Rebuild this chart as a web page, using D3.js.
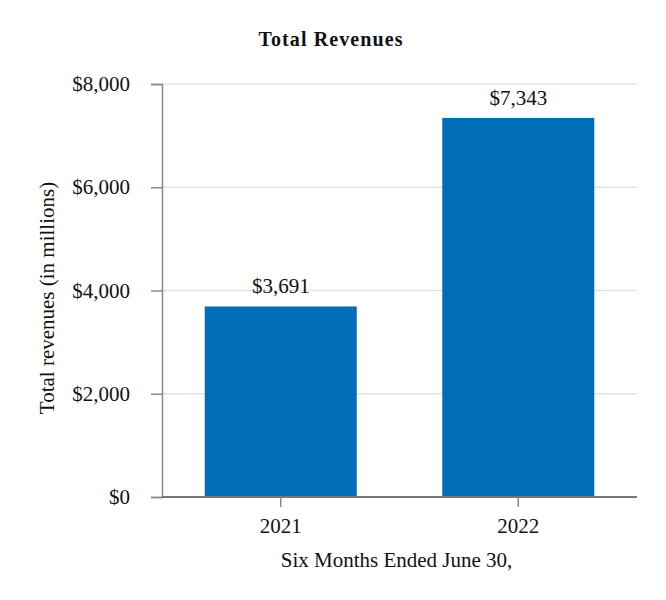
<!DOCTYPE html>
<html>
<head>
<meta charset="utf-8">
<script src="https://cdn.jsdelivr.net/npm/d3@7"></script>
<style>
  html, body { margin: 0; padding: 0; background: #ffffff; }
  svg { display: block; }
  text { font-family: "Liberation Serif", "Times New Roman", serif; fill: #111; }
</style>
</head>
<body>
<svg id="chart" width="666" height="600"></svg>
<script>
const categories = ["2021", "2022"];
const values = [3691, 7343];
const valueLabels = ["$3,691", "$7,343"];
const yTicks = [0, 2000, 4000, 6000, 8000];
const yTickLabels = ["$0", "$2,000", "$4,000", "$6,000", "$8,000"];
const title = "Total Revenues";
const xTitle = "Six Months Ended June 30,";
const yTitle = "Total revenues (in millions)";

const svg = d3.select("#chart");
const m = { left: 162, right: 637, top: 84, bottom: 497 };
const FS = 21;

const x = d3.scaleBand().domain(categories).range([m.left, m.right])
  .paddingInner(0.36).paddingOuter(0.18);
const y = d3.scaleLinear().domain([0, 8000]).range([m.bottom, m.top]);

// gridlines
svg.append("g").selectAll("line").data(yTicks.slice(1)).join("line")
  .attr("x1", m.left).attr("x2", m.right)
  .attr("y1", d => y(d)).attr("y2", d => y(d))
  .attr("stroke", "#e3e3e3").attr("stroke-width", 1.5);

// bars
svg.append("g").selectAll("rect").data(values).join("rect")
  .attr("x", (d, i) => x(categories[i]))
  .attr("width", x.bandwidth())
  .attr("y", d => y(d))
  .attr("height", d => y(0) - y(d))
  .attr("fill", "#006db6");

// value labels
svg.append("g").selectAll("text").data(values).join("text")
  .attr("x", (d, i) => x(categories[i]) + x.bandwidth() / 2)
  .attr("y", d => y(d) - 13)
  .attr("text-anchor", "middle")
  .attr("font-size", FS)
  .text((d, i) => valueLabels[i]);

// y axis
const yAxis = d3.axisLeft(y).tickValues(yTicks)
  .tickFormat((d, i) => yTickLabels[i]).tickSize(11).tickPadding(21);
const gy = svg.append("g").attr("transform", `translate(${m.left},0)`).call(yAxis);
gy.select(".domain").attr("stroke", "#8a8a8a").attr("stroke-width", 1.5);
gy.selectAll(".tick line").attr("stroke", "#8a8a8a").attr("stroke-width", 1.5);
gy.selectAll(".tick text").attr("font-size", FS)
  .attr("font-family", "Liberation Serif, Times New Roman, serif").attr("fill", "#111");

// x axis
const xAxis = d3.axisBottom(x).tickSize(10).tickPadding(11);
const gx = svg.append("g").attr("transform", `translate(0,${m.bottom})`).call(xAxis);
gx.select(".domain").attr("stroke", "#777").attr("stroke-width", 2)
  .attr("d", `M${m.left},0H${m.right}`);
gx.selectAll(".tick line").attr("stroke", "#8a8a8a").attr("stroke-width", 1.5);
gx.selectAll(".tick text").attr("font-size", FS)
  .attr("font-family", "Liberation Serif, Times New Roman, serif").attr("fill", "#111");

// title
svg.append("text").attr("x", 331).attr("y", 46)
  .attr("text-anchor", "middle").attr("font-size", 20).attr("font-weight", "bold")
  .attr("letter-spacing", "1.1px")
  .text(title);

// x title
svg.append("text").attr("x", (m.left + m.right) / 2 - 3).attr("y", 567)
  .attr("text-anchor", "middle").attr("font-size", FS).text(xTitle);

// y title
svg.append("text").attr("transform", `translate(54,298) rotate(-90)`)
  .attr("text-anchor", "middle").attr("font-size", FS).text(yTitle);
</script>
</body>
</html>
